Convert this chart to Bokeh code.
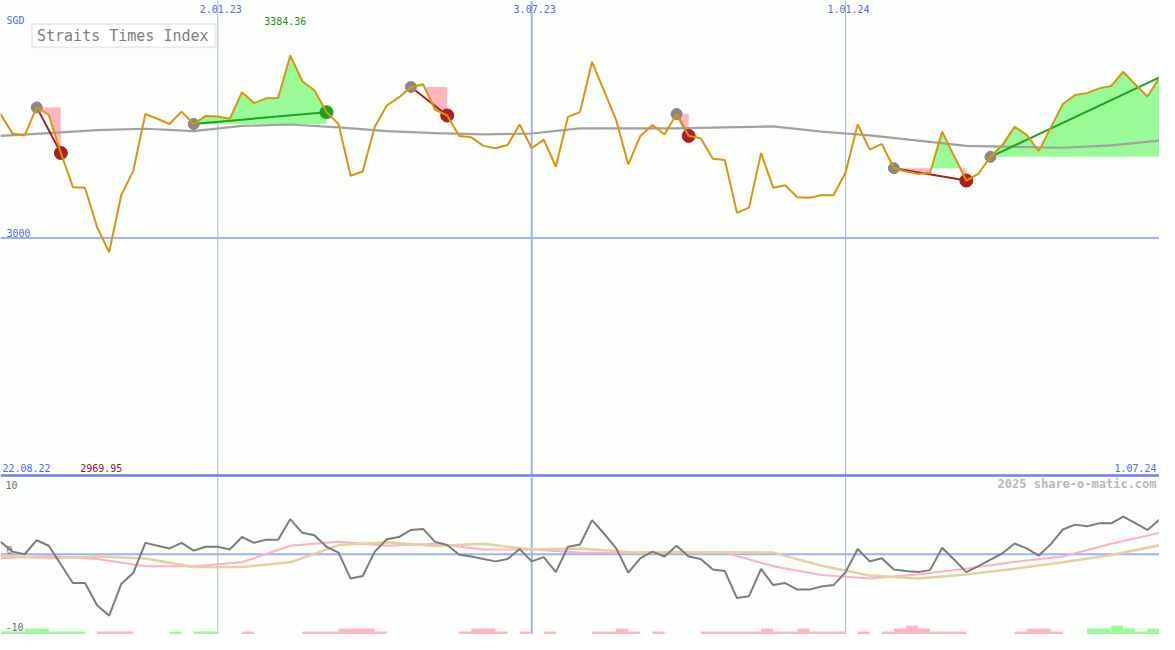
from bokeh.plotting import figure
from bokeh.models import Range1d, Span, Label, BoxAnnotation
from bokeh.layouts import column
from bokeh.embed import file_html
from bokeh.resources import INLINE

# ---------------- data (weekly, 22.08.22 .. 1.07.24) ----------------
first_date = "22.08.22"
last_date = "1.07.24"
date_labels = ["2.01.23", "3.07.23", "1.01.24"]
date_weeks = [18, 44, 70]
date_strong = [False, True, False]

price = [3261, 3220, 3216, 3275, 3259, 3179, 3107, 3106, 3023, 2969.95,
         3090, 3142, 3261, 3251, 3240, 3266, 3240, 3257, 3256, 3251,
         3307, 3284, 3294, 3295, 3384.36, 3330, 3311, 3265, 3240, 3131,
         3140, 3234, 3279, 3296, 3318, 3324, 3270, 3258, 3215, 3212,
         3194, 3189, 3196, 3239, 3189, 3207, 3150, 3255, 3265, 3371,
         3309, 3248, 3155, 3215, 3238, 3218, 3261, 3215, 3210, 3167,
         3164, 3053, 3064, 3179, 3106, 3111, 3086, 3085, 3090, 3090,
         3138, 3239, 3186, 3198, 3147, 3140, 3135, 3138, 3224, 3172,
         3121, 3135, 3171, 3196, 3234, 3217, 3183, 3233, 3282, 3301,
         3305, 3315, 3320, 3350, 3323, 3298, 3338]
weeks = list(range(len(price)))

ma_weeks = list(range(0, 97, 4))
ma_long = [3215, 3221, 3227, 3230, 3225, 3236, 3239, 3233, 3225, 3221,
           3218, 3220, 3231, 3231, 3231, 3233, 3235, 3224, 3216, 3205,
           3194, 3192, 3190, 3195, 3205]

osc = [1.74, 0.37, 0.0, 1.97, 1.19, -1.45, -4.05, -4.05, -7.16, -8.63,
       -4.19, -2.60, 1.60, 1.19, 0.82, 1.60, 0.51, 1.05, 1.05, 0.68,
       2.42, 1.60, 2.05, 2.05, 4.93, 3.01, 2.66, 1.05, 0.23, -3.42,
       -3.05, 0.37, 2.11, 2.42, 3.42, 3.56, 1.74, 1.29, -0.08, -0.32,
       -0.68, -1.0, -0.68, 0.74, -1.0, -0.41, -2.51, 1.05, 1.37, 4.79,
       2.88, 0.82, -2.60, -0.55, 0.37, -0.32, 1.19, -0.32, -0.68, -2.14,
       -2.37, -6.16, -5.89, -2.05, -4.33, -4.05, -4.97, -4.97, -4.52, -4.33,
       -2.51, 0.74, -1.0, -0.55, -2.14, -2.37, -2.51, -2.23, 0.92, -0.77,
       -2.51, -1.68, -0.77, 0.14, 1.51, 0.82, -0.18, 1.42, 3.48, 4.16,
       3.93, 4.34, 4.34, 5.30, 4.38, 3.42, 4.85]

sig_pink = [-0.55, -0.25, -0.66, -1.68, -1.68, -1.12, 1.19, 1.74, 1.21, 1.48,
            0.68, 0.68, 0.23, 0.14, 0.27, 0.23, -1.68, -2.92, -3.42, -2.85,
            -1.99, -1.08, -0.32, 1.47, 3.01]
sig_tan = [-0.22, -0.55, -0.32, -0.59, -1.78, -1.78, -1.14, 1.29, 1.70, 1.15,
           1.46, 0.67, 0.82, 0.33, 0.23, 0.27, 0.23, -1.62, -2.99, -3.42,
           -2.85, -2.03, -1.12, -0.10, 1.26]

strength = [1, 1, 2, 2, 1, 1, 1, 0, -1, -1,
            -1, 0, 0, 0, 1, 0, 1, 1, 0, 0,
            -1, 0, 0, 0, 0, -1, -1, -1, -2, -2,
            -2, -1, 0, 0, 0, 0, 0, 0, -1, -2,
            -2, -1, 0, -1, 0, -1, 0, 0, 0, -1,
            -1, -2, -1, 0, -1, 0, 0, 0, -1, -1,
            -1, -1, -1, -2, -1, -1, -2, -1, -1, -1,
            0, -1, 0, -1, -2, -3, -2, -1, -1, -1,
            0, 0, 0, 0, -1, -2, -2, -1, 0, 0,
            2, 2, 3, 2, 1, 2, 0]

trade_start = [3, 16, 34, 56, 74, 82]
trade_end = [5, 27, 37, 57, 80, 96]
trade_closed = [True, True, True, True, True, False]

# ---------------- styling ----------------
BG = "#fbfefb"
BLUE_TXT = "#5468f0"
GRID_BLUE = "#a0b0f0"
GRID_THIN = "#a8b0e0"
SEP = "#7080e8"
ORANGE = "#d9950f"
GRAYLINE = "#a0a0a0"
GREEN_FILL = "#98fb98"
PINK_FILL = "#ffb6c1"
RED = "#a82020"
GREEN = "#22a022"
MONO = "DejaVu Sans Mono"

W = 1159
H1 = 477   # covers reference rows 0..489
H2 = 157   # covers reference rows 489..650


def fx(px):
    return px * 96 / 1175


def fyt(py):
    return 3500 - py * 1000 / 487


def fyb(py):
    return (567.7 - py) / 7.3


# ---------------- top panel ----------------
p1 = figure(width=W, height=H1, x_range=Range1d(0, 96), y_range=Range1d(fyt(489), 3500),
            output_backend="svg", toolbar_location=None,
            x_axis_location=None, y_axis_location=None, min_border=0,
            background_fill_color=BG, border_fill_color=BG, outline_line_color=None)
p1.grid.visible = False

for wk, strong in zip(date_weeks, date_strong):
    p1.add_layout(Span(location=wk, dimension="height",
                       line_color=GRID_BLUE if strong else GRID_THIN,
                       line_width=2 if strong else 1, level="underlay"))
p1.add_layout(Span(location=3000, dimension="width", line_color=GRID_BLUE,
                   line_width=2, level="underlay"))
p1.add_layout(Span(location=2500, dimension="width", line_color=SEP, line_width=2.5))

# trade fills between entry level and price
for s, e in zip(trade_start, trade_end):
    lvl = price[s]
    xs, ys = [], []
    for k in range(s, e):
        xs.append(k)
        ys.append(price[k])
        a, b = price[k] - lvl, price[k + 1] - lvl
        if a * b < 0:
            xs.append(k + a / (a - b))
            ys.append(lvl)
    xs.append(e)
    ys.append(price[e])
    p1.varea(x=xs, y1=[lvl] * len(xs), y2=[max(y, lvl) for y in ys],
             fill_color=GREEN_FILL, fill_alpha=1)
    p1.varea(x=xs, y1=[lvl] * len(xs), y2=[min(y, lvl) for y in ys],
             fill_color=PINK_FILL, fill_alpha=1)

p1.line(ma_weeks, ma_long, line_color=GRAYLINE, line_width=2.2)

for s, e in zip(trade_start, trade_end):
    col = GREEN if price[e] > price[s] else RED
    p1.segment(x0=[s], y0=[price[s]], x1=[e], y1=[price[e]], line_color=col, line_width=2)

p1.scatter([s for s in trade_start], [price[s] for s in trade_start],
           size=11, fill_color="#888888", line_color="#888888")
ends_x = [e for e, c in zip(trade_end, trade_closed) if c]
ends_y = [price[e] for e in ends_x]
ends_c = [GREEN if price[e] > price[s] else RED
          for s, e, c in zip(trade_start, trade_end, trade_closed) if c]
p1.scatter(ends_x, ends_y, size=13, fill_color=ends_c, line_color=ends_c)

p1.line(weeks, price, line_color=ORANGE, line_width=2)

# texts of the top panel
def lab(p, x, y, text, color, align="left", size="10px", style="normal"):
    p.add_layout(Label(x=x, y=y, text=text, text_color=color, text_align=align,
                       text_baseline="middle", text_font=MONO, text_font_size=size,
                       text_font_style=style))

for wk, t in zip(date_weeks, date_labels):
    lab(p1, wk + fx(3), fyt(9), t, BLUE_TXT, "center")
lab(p1, fx(6), fyt(20.5), "SGD", BLUE_TXT)
p1.add_layout(BoxAnnotation(left=fx(32), right=fx(218), top=fyt(24), bottom=fyt(48),
                            fill_color="white", fill_alpha=1, line_color="#c0c0c0",
                            line_width=2))
lab(p1, fx(37), fyt(36.5), "Straits Times Index", "#808080", size="15px")
imax = price.index(max(price))
imin = price.index(min(price))
lab(p1, imax - fx(5), fyt(21), f"{max(price):.2f}", "#209020", "center")
lab(p1, imin - fx(8), fyt(479), f"{min(price):.2f}", "#a01818", "center")
lab(p1, fx(6), fyt(238), "3000", BLUE_TXT)
lab(p1, fx(2), fyt(479), first_date, BLUE_TXT)
lab(p1, fx(1172), fyt(479), last_date, BLUE_TXT, "right")

# ---------------- bottom panel ----------------
p2 = figure(width=W, height=H2, x_range=p1.x_range, y_range=Range1d(fyb(650), fyb(489)),
            output_backend="svg", toolbar_location=None,
            x_axis_location=None, y_axis_location=None, min_border=0,
            background_fill_color=BG, border_fill_color=BG, outline_line_color=None)
p2.grid.visible = False
p2.extra_y_ranges = {"bars": Range1d(0, 161 / 3)}

for wk, strong in zip(date_weeks, date_strong):
    p2.add_layout(Span(location=wk, dimension="height",
                       line_color=GRID_BLUE if strong else GRID_THIN,
                       line_width=2 if strong else 1, level="underlay"))
p2.add_layout(Span(location=0, dimension="width", line_color=GRID_BLUE,
                   line_width=2, level="underlay"))

bx = [i for i, v in enumerate(strength) if v != 0]
p2.quad(left=bx, right=[i + 1 for i in bx], bottom=[0] * len(bx),
        top=[abs(strength[i]) for i in bx],
        fill_color=[GREEN_FILL if strength[i] > 0 else PINK_FILL for i in bx],
        line_color=None, y_range_name="bars")

p2.line(ma_weeks, sig_pink, line_color="#ffb0c8", line_width=2)
p2.line(ma_weeks, sig_tan, line_color="#e6cfa0", line_width=2.5)
p2.line(weeks, osc, line_color="#7c7c7c", line_width=2)

lab(p2, fx(5), fyb(496.5), "10", "#707070")
lab(p2, fx(6), fyb(563), "0", "#707070")
lab(p2, fx(5), fyb(642.5), "-10", "#707070")
lab(p2, fx(1172), fyb(496), "2025 share-o-matic.com", "#b8b8b8", "right", "12px", "bold")

layout = column(p1, p2, spacing=0)
open("out.html", "w").write(file_html(layout, INLINE))
